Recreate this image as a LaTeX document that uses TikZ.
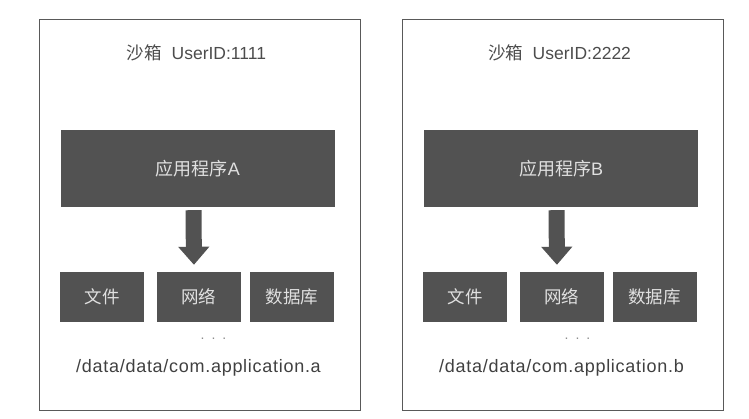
\documentclass[tikz,border=0pt]{standalone}
\usepackage{fontspec}
\setmainfont{Liberation Sans}
\newfontfamily\cjk{Noto Sans CJK SC}
\usetikzlibrary{arrows.meta}

\begin{document}
\begin{tikzpicture}[x=1pt,y=-1pt,
	sandbox/.style={draw=black!65,line width=1pt,minimum width=321pt,minimum height=391pt,inner sep=0pt},
	appbox/.style={fill=black!68,text=black!12,minimum width=274pt,minimum height=77pt,inner sep=0pt,font=\fontsize{18}{20}\selectfont},
	resbox/.style={fill=black!68,text=black!12,minimum width=84pt,minimum height=50pt,inner sep=0pt,font=\fontsize{17.5}{20}\selectfont},
	label/.style={text=black!70,inner sep=0pt,font=\fontsize{17.5}{20}\selectfont},
	pathlabel/.style={text=black!75,inner sep=0pt,font=\fontsize{18}{20}\selectfont\addfontfeature{LetterSpace=4}},
	dots/.style={text=black!45,inner sep=0pt,font=\fontsize{14}{16}\selectfont},
	callarrow/.style={draw=black!68,line width=16pt,-{Triangle[width=30pt,length=18pt]},shorten <=3pt,shorten >=7pt}]
	\useasboundingbox (0,0) rectangle (749,418);

	% sandbox A
	\node[sandbox] (boxA) at (199.5,214.5) {};
	\node[label] (titleA) at (196.5,53) {{\cjk 沙箱}\ \ UserID:1111};
	\node[appbox] (appA) at (198,168.5) {{\cjk 应用程序}A};
	\node[resbox] (fileA) at (102,297) {\cjk 文件};
	\node[resbox] (netA) at (198.5,297) {\cjk 网络};
	\node[resbox] (dbA) at (292,297) {\cjk 数据库};
	\node[dots] (dotsA) at (213.5,339) {.\enspace.\enspace.};
	\node[pathlabel] (pathA) at (198.5,368) {/data/data/com.application.a};
	\draw[callarrow] ([xshift=-4.5pt]appA.south) -- ([xshift=-4.5pt]netA.north);

	% sandbox B
	\node[sandbox] (boxB) at (562.5,214.5) {};
	\node[label] (titleB) at (559.5,53) {{\cjk 沙箱}\ \ UserID:2222};
	\node[appbox] (appB) at (561,168.5) {{\cjk 应用程序}B};
	\node[resbox] (fileB) at (465,297) {\cjk 文件};
	\node[resbox] (netB) at (561.5,297) {\cjk 网络};
	\node[resbox] (dbB) at (654.5,297) {\cjk 数据库};
	\node[dots] (dotsB) at (577.5,339) {.\enspace.\enspace.};
	\node[pathlabel] (pathB) at (561.5,368) {/data/data/com.application.b};
	\draw[callarrow] ([xshift=-4.5pt]appB.south) -- ([xshift=-4.5pt]netB.north);
\end{tikzpicture}
\end{document}
